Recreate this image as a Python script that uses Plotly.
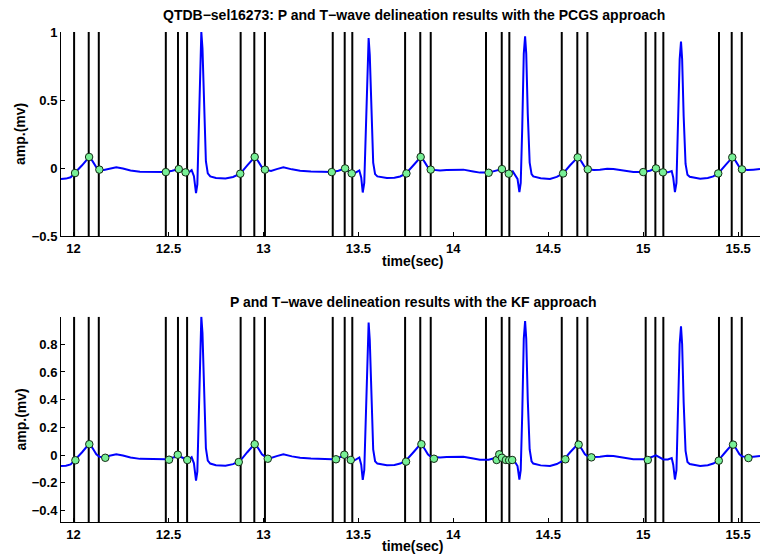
import plotly.graph_objects as go

# ---------------- data ----------------
t_sig = [11.934, 11.960, 11.985, 12.008, 12.045, 12.082, 12.100, 12.120, 12.136, 12.160,
         12.190, 12.225, 12.260, 12.300, 12.350, 12.400, 12.450, 12.486, 12.520, 12.554,
         12.575, 12.590, 12.605, 12.622, 12.634, 12.645, 12.652, 12.660, 12.667, 12.673,
         12.679, 12.687, 12.697, 12.707, 12.720, 12.750, 12.800, 12.840, 12.878, 12.915,
         12.954, 12.972, 12.992, 13.008, 13.040, 13.070, 13.105, 13.150, 13.193, 13.250,
         13.300, 13.360, 13.395, 13.428, 13.448, 13.465, 13.480, 13.505, 13.515, 13.523,
         13.531, 13.540, 13.548, 13.554, 13.560, 13.568, 13.578, 13.588, 13.600, 13.650,
         13.690, 13.720, 13.751, 13.790, 13.828, 13.846, 13.866, 13.881, 13.930, 13.965,
         14.018, 14.053, 14.105, 14.140, 14.186, 14.220, 14.256, 14.275, 14.292, 14.313,
         14.338, 14.348, 14.355, 14.363, 14.371, 14.378, 14.384, 14.392, 14.402, 14.412,
         14.421, 14.460, 14.509, 14.545, 14.578, 14.615, 14.655, 14.673, 14.693, 14.708,
         14.740, 14.772, 14.810, 14.843, 14.900, 14.948, 15.000, 15.035, 15.067, 15.088,
         15.106, 15.130, 15.150, 15.158, 15.167, 15.175, 15.183, 15.192, 15.199, 15.205,
         15.213, 15.223, 15.233, 15.245, 15.300, 15.340, 15.369, 15.395, 15.432, 15.469,
         15.487, 15.507, 15.520, 15.550, 15.580, 15.615]
y_sig = [-0.080, -0.078, -0.068, -0.037, 0.020, 0.081, 0.050, 0.005, -0.012, -0.015,
         -0.006, 0.005, -0.004, -0.018, -0.028, -0.030, -0.028, -0.030, -0.020, -0.008,
         -0.020, -0.032, -0.034, -0.016, -0.060, -0.185, -0.120, 0.300, 0.850, 1.000,
         0.880, 0.450, 0.050, -0.040, -0.062, -0.074, -0.077, -0.066, -0.042, 0.020,
         0.081, 0.050, 0.005, -0.012, -0.022, -0.008, 0.005, -0.010, -0.020, -0.026,
         -0.030, -0.030, -0.020, -0.004, -0.025, -0.040, -0.038, -0.018, -0.070, -0.180,
         -0.110, 0.300, 0.820, 0.956, 0.830, 0.400, 0.040, -0.045, -0.062, -0.074,
         -0.072, -0.062, -0.040, 0.020, 0.081, 0.050, 0.005, -0.012, -0.018, -0.014,
         -0.010, -0.012, -0.025, -0.034, -0.034, -0.022, -0.008, -0.025, -0.042, -0.025,
         -0.080, -0.177, -0.110, 0.300, 0.840, 0.968, 0.840, 0.400, 0.040, -0.045,
         -0.062, -0.075, -0.080, -0.065, -0.040, 0.020, 0.078, 0.050, 0.005, -0.010,
         -0.014, -0.012, -0.006, -0.008, -0.020, -0.030, -0.030, -0.020, -0.003, -0.020,
         -0.032, -0.032, -0.022, -0.070, -0.177, -0.110, 0.280, 0.800, 0.930, 0.800,
         0.380, 0.030, -0.050, -0.065, -0.079, -0.074, -0.062, -0.040, 0.020, 0.078,
         0.050, 0.005, -0.010, -0.015, -0.012, -0.008]

# reference annotation positions (vertical lines), same in both panels
ref_lines = [12.003, 12.080, 12.133, 12.486, 12.550, 12.598, 12.880, 12.952, 13.008,
             13.365, 13.428, 13.468, 13.746, 13.826, 13.881, 14.172, 14.255, 14.295,
             14.571, 14.653, 14.706, 15.013, 15.064, 15.106, 15.399, 15.466, 15.519]

# PCGS delineation results
pcgs_t = [12.008, 12.082, 12.136, 12.486, 12.554, 12.590, 12.878, 12.954, 13.008,
          13.360, 13.430, 13.465, 13.753, 13.828, 13.881, 14.186, 14.256, 14.292,
          14.578, 14.655, 14.708, 15.000, 15.067, 15.104, 15.395, 15.469, 15.520]
pcgs_y = [-0.037, 0.081, -0.012, -0.030, -0.008, -0.032, -0.042, 0.081, -0.012,
          -0.030, -0.003, -0.040, -0.040, 0.081, -0.012, -0.035, -0.008, -0.042,
          -0.040, 0.078, -0.010, -0.030, -0.003, -0.032, -0.040, 0.078, -0.010]

# KF delineation results
kf_t = [12.010, 12.083, 12.167, 12.503, 12.549, 12.599, 12.870, 12.954, 13.023,
        13.382, 13.426, 13.460, 13.751, 13.832, 13.898, 14.228, 14.242, 14.256,
        14.277, 14.294, 14.310, 14.590, 14.660, 14.727, 15.024, 15.398, 15.473, 15.554]
kf_y = [-0.038, 0.078, -0.020, -0.034, 0.002, -0.036, -0.051, 0.078, -0.027,
        -0.031, 0.002, -0.036, -0.048, 0.078, -0.027, -0.036, 0.005, -0.020,
        -0.036, -0.038, -0.036, -0.031, 0.075, -0.017, -0.036, -0.041, 0.075, -0.022]

x_range = [11.934, 15.615]
x_ticks = [12, 12.5, 13, 13.5, 14, 14.5, 15, 15.5]
x_ticklabels = ["12", "12.5", "13", "13.5", "14", "14.5", "15", "15.5"]
top_range = [-0.5, 1.0]
top_ticks = [-0.5, 0, 0.5, 1]
top_ticklabels = ["\u22120.5", "0", "0.5", "1"]
bot_range = [-0.484, 0.999]
bot_ticks = [-0.4, -0.2, 0, 0.2, 0.4, 0.6, 0.8]
bot_ticklabels = ["\u22120.4", "\u22120.2", "0", "0.2", "0.4", "0.6", "0.8"]

title_top = "QTDB\u2212sel16273: P and T\u2212wave delineation results with the PCGS approach"
title_bot = "P and T\u2212wave delineation results with the KF approach"
xlabel = "time(sec)"
ylabel = "amp.(mv)"

# ---------------- figure ----------------
FONT = "Liberation Sans, Arial, Helvetica, sans-serif"
fig = go.Figure()


def vlines(ts, yr):
    xs, ys = [], []
    for t in ts:
        xs += [t, t, None]
        ys += [yr[0], yr[1], None]
    return xs, ys


panels = [
    ("x", "y", top_range, pcgs_t, pcgs_y),
    ("x2", "y2", bot_range, kf_t, kf_y),
]
for xa, ya, yr, mt, my in panels:
    lx, ly = vlines(ref_lines, yr)
    fig.add_trace(go.Scatter(x=lx, y=ly, mode="lines", xaxis=xa, yaxis=ya,
                             line=dict(color="black", width=2), showlegend=False,
                             hoverinfo="skip"))
    fig.add_trace(go.Scatter(x=t_sig, y=y_sig, mode="lines", xaxis=xa, yaxis=ya,
                             line=dict(color="rgb(0,0,255)", width=2), showlegend=False))
    fig.add_trace(go.Scatter(x=mt, y=my, mode="markers", xaxis=xa, yaxis=ya,
                             marker=dict(symbol="circle", size=7.5,
                                         color="rgb(120,240,150)",
                                         line=dict(color="rgb(20,40,20)", width=1)),
                             showlegend=False))

axis_common = dict(showline=True, linecolor="black", linewidth=1, ticks="inside",
                   ticklen=4, tickcolor="black", showgrid=False, zeroline=False,
                   mirror=False, automargin=False,
                   tickfont=dict(family=FONT, size=13, color="black", weight="bold"))

H_TOP, H_BOT = 32, 33
W, H = 760, 555
plot_h = H - H_TOP - H_BOT


def frac(py):
    return (H - H_BOT - py) / plot_h


top_dom = [frac(236), 1.0]
bot_dom = [0.0, frac(316.7)]

fig.update_layout(
    width=W, height=H,
    margin=dict(l=61, r=0, t=H_TOP, b=H_BOT, autoexpand=False),
    paper_bgcolor="white", plot_bgcolor="white",
    xaxis=dict(range=x_range, tickvals=x_ticks, ticktext=x_ticklabels,
               domain=[0, 1], anchor="y", **axis_common),
    yaxis=dict(range=top_range, tickvals=top_ticks, ticktext=top_ticklabels,
               domain=top_dom, anchor="x", **axis_common),
    xaxis2=dict(range=x_range, tickvals=x_ticks, ticktext=x_ticklabels,
                domain=[0, 1], anchor="y2", **axis_common),
    yaxis2=dict(range=bot_range, tickvals=bot_ticks, ticktext=bot_ticklabels,
                domain=bot_dom, anchor="x2", **axis_common),
)

lab_font = dict(family=FONT, size=14, color="black", weight="bold")
tit_font = dict(family=FONT, size=14, color="black", weight="bold")
cx = (413.5 - 61) / (W - 61)


def py2paper(py):
    return (H - H_BOT - py) / plot_h


annots = [
    dict(text=title_top, x=cx, y=py2paper(15), font=tit_font),
    dict(text=title_bot, x=cx, y=py2paper(301.7), font=tit_font),
    dict(text=xlabel, x=(412.5 - 61) / (W - 61), y=py2paper(261), font=lab_font),
    dict(text=xlabel, x=(412.5 - 61) / (W - 61), y=py2paper(546), font=lab_font),
    dict(text=ylabel, x=(20 - 61) / (W - 61), y=py2paper(134), font=lab_font, textangle=-90),
    dict(text=ylabel, x=(20 - 61) / (W - 61), y=py2paper(419.5), font=lab_font, textangle=-90),
]
for a in annots:
    fig.add_annotation(xref="paper", yref="paper", showarrow=False,
                       xanchor="center", yanchor="middle", **a)

fig.write_html("out.html",
               config={"displayModeBar": False},
               post_script="document.body.style.margin='0px';"
                           "document.body.style.overflow='hidden';")
